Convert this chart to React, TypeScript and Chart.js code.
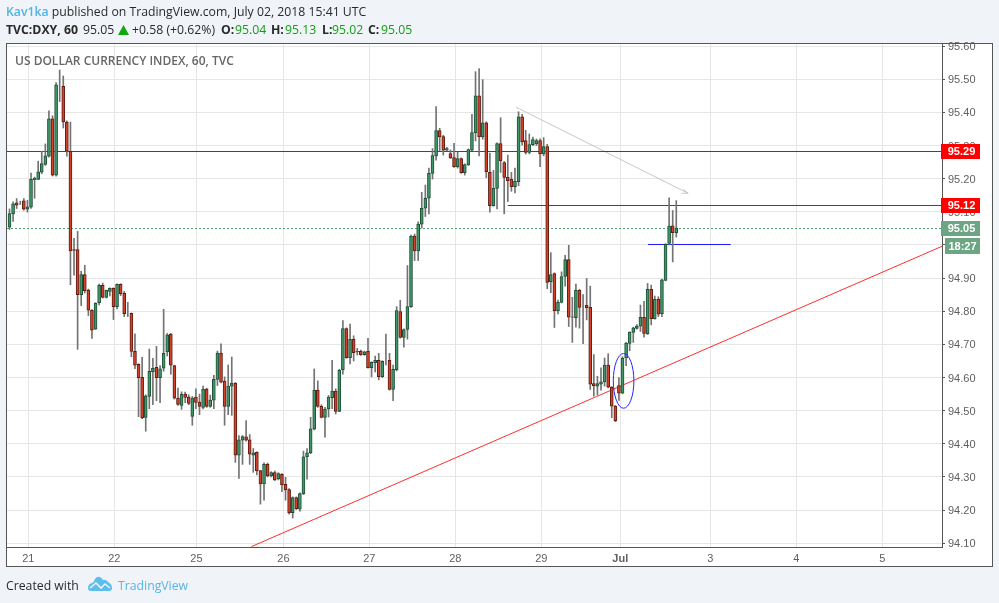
import React, { useEffect, useRef } from "react";
import { Chart, registerables } from "chart.js";

Chart.register(...registerables);

const opens = [
  95.054,95.094,95.127,95.124,95.133,95.108,95.114,95.197,95.198,95.22,
  95.243,95.268,95.381,95.211,95.479,95.479,95.371,95.283,94.986,94.986,
  94.85,94.911,94.864,94.803,94.746,94.826,94.878,94.842,94.86,94.869,
  94.814,94.881,94.854,94.794,94.794,94.679,94.64,94.601,94.48,94.543,
  94.618,94.631,94.6,94.628,94.677,94.731,94.636,94.538,94.516,94.55,
  94.541,94.483,94.541,94.526,94.51,94.565,94.513,94.532,94.594,94.674,
  94.589,94.513,94.574,94.583,94.366,94.411,94.421,94.412,94.366,94.374,
  94.319,94.279,94.338,94.303,94.313,94.294,94.308,94.278,94.262,94.192,
  94.238,94.203,94.249,94.361,94.373,94.444,94.562,94.513,94.48,94.505,
  94.539,94.559,94.498,94.624,94.748,94.66,94.715,94.677,94.679,94.669,
  94.679,94.63,94.645,94.652,94.603,94.652,94.652,94.564,94.624,94.799,
  94.721,94.745,94.814,95.027,94.982,95.063,95.111,95.141,95.216,95.269,
  95.345,95.327,95.286,95.276,95.264,95.236,95.261,95.218,95.242,95.286,
  95.339,95.45,95.326,95.369,95.219,95.119,95.171,95.306,95.249,95.204,
  95.198,95.176,95.191,95.387,95.315,95.279,95.303,95.305,95.315,95.275,
  95.297,94.889,94.914,94.802,94.827,94.905,94.956,94.783,94.781,94.863,
  94.814,94.818,94.812,94.582,94.574,94.58,94.587,94.638,94.571,94.514,
  94.576,94.553,94.659,94.703,94.736,94.748,94.755,94.782,94.732,94.866,
  94.778,94.836,94.793,94.893,95.005,95.058,95.037,
];
const closes = [
  95.095,95.124,95.12,95.124,95.108,95.115,95.198,95.201,95.221,95.246,
  95.269,95.381,95.211,95.483,95.479,95.371,95.283,94.982,94.984,94.85,
  94.911,94.862,94.803,94.743,94.824,94.878,94.842,94.863,94.869,94.814,
  94.881,94.853,94.793,94.794,94.679,94.637,94.6,94.479,94.545,94.619,
  94.628,94.6,94.626,94.673,94.729,94.637,94.538,94.519,94.55,94.54,
  94.522,94.538,94.525,94.513,94.565,94.513,94.532,94.595,94.674,94.586,
  94.513,94.574,94.583,94.366,94.412,94.422,94.411,94.369,94.373,94.318,
  94.279,94.338,94.303,94.313,94.291,94.31,94.276,94.261,94.192,94.238,
  94.204,94.25,94.361,94.373,94.445,94.562,94.513,94.48,94.505,94.541,
  94.559,94.498,94.622,94.748,94.66,94.715,94.675,94.679,94.669,94.678,
  94.63,94.646,94.652,94.603,94.649,94.652,94.564,94.625,94.802,94.721,
  94.745,94.814,95.027,94.982,95.063,95.111,95.141,95.216,95.27,95.345,
  95.326,95.286,95.291,95.263,95.236,95.261,95.218,95.243,95.288,95.339,
  95.45,95.326,95.369,95.221,95.119,95.171,95.306,95.254,95.204,95.194,
  95.176,95.192,95.387,95.311,95.279,95.303,95.318,95.315,95.275,95.297,
  94.887,94.911,94.802,94.827,94.905,94.956,94.782,94.782,94.863,94.812,
  94.814,94.811,94.58,94.575,94.582,94.587,94.638,94.571,94.514,94.469,
  94.553,94.659,94.704,94.737,94.75,94.755,94.782,94.733,94.866,94.778,
  94.836,94.791,94.895,95.002,95.057,95.037,95.051,
];
const highs = [
  95.109,95.13,95.14,95.132,95.14,95.135,95.217,95.205,95.253,95.283,
  95.305,95.405,95.39,95.49,95.528,95.51,95.375,95.371,95.02,95.041,
  94.921,94.939,94.867,94.805,94.826,94.882,94.885,94.864,94.871,94.871,
  94.883,94.883,94.86,94.827,94.795,94.732,94.642,94.661,94.548,94.686,
  94.658,94.694,94.636,94.806,94.733,94.733,94.637,94.568,94.557,94.556,
  94.548,94.543,94.566,94.55,94.574,94.568,94.547,94.607,94.68,94.702,
  94.602,94.638,94.662,94.585,94.425,94.425,94.47,94.428,94.386,94.376,
  94.32,94.343,94.342,94.316,94.318,94.313,94.31,94.299,94.265,94.24,
  94.24,94.252,94.378,94.386,94.48,94.626,94.59,94.518,94.51,94.546,
  94.652,94.566,94.625,94.772,94.75,94.761,94.726,94.688,94.683,94.68,
  94.718,94.648,94.665,94.673,94.651,94.731,94.673,94.638,94.814,94.833,
  94.747,94.938,95.03,95.033,95.07,95.159,95.181,95.232,95.291,95.418,
  95.352,95.331,95.295,95.287,95.307,95.281,95.263,95.245,95.29,95.394,
  95.523,95.532,95.499,95.372,95.277,95.225,95.308,95.384,95.252,95.271,
  95.219,95.232,95.402,95.394,95.346,95.335,95.326,95.32,95.32,95.324,
  95.304,94.977,94.916,94.834,94.919,94.969,94.999,94.842,94.882,94.866,
  94.85,94.899,94.876,94.669,94.604,94.629,94.659,94.672,94.573,94.516,
  94.6,94.663,94.706,94.738,94.752,94.76,94.819,94.83,94.884,94.879,
  94.846,94.844,94.897,95.004,95.142,95.104,95.134,
];
const lows = [
  95.047,95.071,95.11,95.122,95.105,95.099,95.11,95.141,95.197,95.215,
  95.24,95.265,95.208,95.208,95.433,95.353,95.268,94.88,94.909,94.685,
  94.817,94.855,94.787,94.718,94.745,94.819,94.84,94.84,94.846,94.775,
  94.807,94.847,94.784,94.784,94.663,94.627,94.482,94.476,94.438,94.506,
  94.518,94.53,94.524,94.619,94.665,94.61,94.535,94.516,94.504,94.524,
  94.518,94.456,94.506,94.488,94.505,94.51,94.51,94.506,94.576,94.584,
  94.456,94.488,94.486,94.344,94.296,94.338,94.408,94.338,94.314,94.306,
  94.218,94.23,94.3,94.3,94.289,94.291,94.256,94.23,94.188,94.176,
  94.202,94.197,94.247,94.293,94.37,94.442,94.51,94.478,94.42,94.481,
  94.506,94.49,94.497,94.61,94.658,94.641,94.65,94.668,94.667,94.667,
  94.628,94.602,94.617,94.593,94.6,94.638,94.562,94.53,94.62,94.719,
  94.692,94.716,94.812,94.953,94.953,95.051,95.086,95.094,95.199,95.256,
  95.284,95.271,95.284,95.261,95.234,95.232,95.216,95.211,95.24,95.284,
  95.314,95.269,95.319,95.203,95.099,95.117,95.109,95.219,95.094,95.131,
  95.162,95.157,95.179,95.301,95.274,95.275,95.3,95.3,95.236,95.269,
  94.868,94.856,94.751,94.792,94.825,94.876,94.754,94.706,94.752,94.749,
  94.702,94.774,94.564,94.544,94.547,94.562,94.574,94.569,94.479,94.467,
  94.531,94.551,94.636,94.681,94.706,94.746,94.739,94.722,94.73,94.759,
  94.776,94.784,94.784,94.892,95.0,94.949,95.024,
];

// x axis: bar index positions of the date ticks, and their labels
const xTickPositions = [5.24, 29.23, 52.16, 76.43, 100.36, 124.35, 148.34, 170.38, 195.48, 219.47, 243.46];
const xTickLabels = ["21", "22", "25", "26", "27", "28", "29", "Jul", "3", "4", "5"];
const yTicks = [94.1, 94.2, 94.3, 94.4, 94.5, 94.6, 94.7, 94.8, 94.9, 95.0, 95.1, 95.2, 95.3, 95.4, 95.5, 95.6];

const xMin = -0.697;
const xMax = 260.12;
const yMin = 94.0887;
const yMax = 95.6065;

// drawings on the chart, in [bar index, price]
const resistancePrice = 95.2821;
const shortPrice = 95.1192;
const lastPrice = 95.0498;
const resistanceLine = [[-0.697, resistancePrice], [260.12, resistancePrice]];
const shortLine = [[139, shortPrice], [260.12, shortPrice]];
const lastPriceLine = [[-0.697, lastPrice], [260.12, lastPrice]];
const blueLine = [[178.1, 95.0015], [201.2, 95.0015]];
const trendLine = [[67.5, 94.09], [260.1, 94.996]];
const arrowLine = [[141.3, 95.416], [189.3, 95.156]];
const arrowHead = [[187.95, 95.168], [189.3, 95.156], [187.5, 95.156]];
const ellipseCentre = [171.3, 94.59];
const ellipseRadii = [2.87, 0.0825];

const GREEN_FILL = "#3f9668";
const GREEN_EDGE = "#1f4f37";
const RED_FILL = "#d2412a";
const RED_EDGE = "#5e1c12";
const WICK = "#737373";
const FRAME = "#555555";
const PAGE = "#f0f3f7";
const UI_FONT = "'Open Sans'";

const toPoints = (pairs: number[][]) => pairs.map(([x, y]) => ({ x, y }));

const lineSet = (pairs: number[][], color: string, extra: object = {}) => ({
  type: "line",
  data: toPoints(pairs),
  borderColor: color,
  borderWidth: 1,
  pointRadius: 0,
  tension: 0,
  order: 5,
  ...extra,
});

const isUp = (i: number) => closes[i] >= opens[i];

const badge = (ctx: any, x0: number, x1: number, top: number, bottom: number, fill: string, text: string, textX: number) => {
  ctx.fillStyle = fill;
  ctx.fillRect(x0, top, x1 - x0, bottom - top);
  ctx.fillStyle = "#ffffff";
  ctx.font = "bold 11px 'Liberation Sans'";
  ctx.textAlign = "center";
  ctx.textBaseline = "middle";
  ctx.fillText(text, textX, (top + bottom) / 2 + 0.5);
};

const framePlugin = {
  id: "frame",
  beforeDraw(chart: any) {
    const { ctx, width, height } = chart;
    ctx.save();
    ctx.fillStyle = PAGE;
    ctx.fillRect(0, 0, width, height);
    ctx.fillStyle = "#ffffff";
    ctx.fillRect(6, 43, 987, 524);
    ctx.restore();
  },
  // bars land on whole pixels, as a trading chart's candles do
  beforeDatasetsDraw(chart: any) {
    chart.data.datasets.forEach((ds: any, d: number) => {
      if (ds.type !== "bar") return;
      chart.getDatasetMeta(d).data.forEach((el: any) => {
        el.x = Math.floor(el.x) + 0.5;
        el.y = Math.round(el.y);
        el.base = Math.round(el.base);
        if (el.base === el.y) el.base = el.y + 1;
        if (ds.label === "bodies" && Math.abs(el.base - el.y) < 2) el.base = el.y + 2;
      });
    });
  },
  afterDatasetsDraw(chart: any) {
    const { ctx, chartArea, scales } = chart;
    ctx.save();
    ctx.beginPath();
    ctx.rect(chartArea.left, chartArea.top, chartArea.right - chartArea.left, chartArea.bottom - chartArea.top);
    ctx.clip();
    const cx = scales.x.getPixelForValue(ellipseCentre[0]);
    const cy = scales.y.getPixelForValue(ellipseCentre[1]);
    const rx = Math.abs(scales.x.getPixelForValue(ellipseCentre[0] + ellipseRadii[0]) - cx);
    const ry = Math.abs(scales.y.getPixelForValue(ellipseCentre[1] + ellipseRadii[1]) - cy);
    ctx.strokeStyle = "#2626ff";
    ctx.lineWidth = 1;
    ctx.beginPath();
    ctx.ellipse(cx, cy, rx, ry, 0, 0, Math.PI * 2);
    ctx.stroke();
    ctx.fillStyle = "#666666";
    ctx.font = `600 12px ${UI_FONT}`;
    ctx.textAlign = "left";
    ctx.textBaseline = "middle";
    ctx.fillText("US DOLLAR CURRENCY INDEX, 60, TVC", 15, 61.5);
    ctx.restore();
  },
  afterDraw(chart: any) {
    const { ctx, scales } = chart;
    ctx.save();
    ctx.strokeStyle = FRAME;
    ctx.lineWidth = 1;
    ctx.strokeRect(6.5, 43.5, 986, 523);
    const y = scales.y;
    const at = (v: number) => Math.floor(y.getPixelForValue(v));
    badge(ctx, 941, 980, at(resistancePrice) - 7, at(resistancePrice) + 8, "#ff0000", "95.29", 961.5);
    badge(ctx, 941, 980, at(shortPrice) - 7, at(shortPrice) + 8, "#ff0000", "95.12", 961.5);
    badge(ctx, 941, 980, at(lastPrice) - 7, at(lastPrice) + 8, "#6ba583", "95.05", 961.5);
    badge(ctx, 945, 980, at(lastPrice) + 10, at(lastPrice) + 26, "#6ba583", "18:27", 962.5);
    ctx.restore();
  },
};

const Triangle = () => (
  <svg width="11" height="10" viewBox="0 0 11 10" style={{ display: "inline-block", margin: "0 3px 0 4px", verticalAlign: "-1px" }}>
    <path d="M5.5 0 L11 10 L0 10 Z" fill="#0fa80f" />
  </svg>
);

const Logo = () => (
  <svg width="24" height="16" viewBox="0 0 24 16" style={{ position: "absolute", left: 88, top: 576 }}>
    <path d="M0 12 Q0 8 4 7 Q6 6 7 3 Q9 0 12 1 Q14 2 15 4 Q18 3 20 6 Q24 8 24 12 Q24 15 21 15 L3 15 Q0 15 0 12 Z" fill="#5cbdee" />
    <path d="M2 12 L8 7 L13 12 L17 8 L22 12" stroke="#f0f3f7" strokeWidth="1.6" fill="none" />
  </svg>
);

const G = ({ children, left }: any) => <span style={{ color: "#12a012", position: "absolute", left, top: 0 }}>{children}</span>;
const B = ({ children, left }: any) => <span style={{ fontWeight: 700, position: "absolute", left, top: 0 }}>{children}</span>;
const N = ({ children, left }: any) => <span style={{ position: "absolute", left, top: 0 }}>{children}</span>;

export default function App() {
  const ref = useRef<HTMLCanvasElement>(null);

  useEffect(() => {
    const idx = opens.map((_, i) => i);
    const chart = new Chart(ref.current as any, {
      type: "bar",
      plugins: [framePlugin],
      data: {
        datasets: [
          {
            label: "bodies",
            data: idx.map((i) => ({ x: i, y: [opens[i], closes[i]] })),
            backgroundColor: idx.map((i) => (isUp(i) ? GREEN_FILL : RED_FILL)),
            borderColor: idx.map((i) => (isUp(i) ? GREEN_EDGE : RED_EDGE)),
            borderWidth: 1,
            borderSkipped: false,
            barThickness: 3,
            grouped: false,
            order: 1,
          },
          {
            label: "wicks",
            data: idx.map((i) => ({ x: i, y: [lows[i], highs[i]] })),
            backgroundColor: WICK,
            borderWidth: 0,
            barThickness: 1,
            grouped: false,
            order: 2,
          },
          lineSet(resistanceLine, "#cf0a10"),
          lineSet(shortLine, "#cf0a10"),
          lineSet(lastPriceLine, "#53a37a", { borderDash: [2, 2] }),
          lineSet(blueLine, "#1a1aff"),
          lineSet(trendLine, "#ff2f2f"),
          lineSet(arrowLine, "#c8c8c8"),
          lineSet(arrowHead, "#c8c8c8"),
        ] as any,
      },
      options: {
        animation: false,
        responsive: false,
        devicePixelRatio: 1,
        layout: { padding: { left: 7, right: 7, top: 44, bottom: 36 } },
        plugins: { legend: { display: false }, tooltip: { enabled: false }, title: { display: false } },
        scales: {
          x: {
            type: "linear",
            min: xMin,
            max: xMax,
            offset: false,
            afterBuildTicks: (s: any) => {
              s.ticks = xTickPositions.map((value) => ({ value }));
            },
            afterFit: (s: any) => {
              s.height = 20;
            },
            grid: { color: "#e6e6e6", lineWidth: 1, drawTicks: false, offset: false },
            border: { color: FRAME },
            ticks: {
              autoSkip: false,
              maxRotation: 0,
              padding: 5,
              color: "#5f5f5f",
              font: (c: any) => ({
                family: "'Liberation Sans'",
                size: 11,
                weight: c.tick && xTickLabels[xTickPositions.indexOf(c.tick.value)] === "Jul" ? "bold" : "normal",
              }),
              callback: (v: any) => xTickLabels[xTickPositions.indexOf(v)],
            },
          },
          y: {
            type: "linear",
            position: "right",
            min: yMin,
            max: yMax,
            afterBuildTicks: (s: any) => {
              s.ticks = yTicks.map((value) => ({ value }));
            },
            afterFit: (s: any) => {
              s.width = 50;
            },
            grid: { color: "#e6e6e6", lineWidth: 1, tickColor: FRAME, tickLength: 3 },
            border: { color: FRAME },
            ticks: {
              padding: 3,
              labelOffset: 1,
              color: "#5f5f5f",
              font: { family: "'Liberation Sans'", size: 11 },
              callback: (v: any) => Number(v).toFixed(2),
            },
          },
        },
      },
    } as any);
    return () => chart.destroy();
  }, []);

  const text = { position: "absolute", whiteSpace: "nowrap", fontFamily: UI_FONT, fontSize: 12.25, lineHeight: "16px", color: "#2a2a2a" } as const;

  return (
    <div style={{ position: "fixed", left: 0, top: 0, width: 999, height: 603, background: PAGE, overflow: "hidden" }}>
      <canvas ref={ref} width={999} height={603} style={{ position: "absolute", left: 0, top: 0, display: "block" }} />
      <div style={{ ...text, left: 6, top: 4 }}>
        <span style={{ color: "#4db4e8", fontWeight: 600 }}>Kav1ka</span> published on TradingView.com, July 02, 2018 15:41 UTC
      </div>
      <div style={{ ...text, left: 6, top: 22 }}>
        <B left={0}>TVC:DXY, 60</B>
        <N left={77}>95.05</N>
        <svg width="11" height="10" viewBox="0 0 11 10" style={{ position: "absolute", left: 112, top: 3 }}>
          <path d="M5.5 0 L11 10 L0 10 Z" fill="#0fa80f" />
        </svg>
        <N left={126}>+0.58 (+0.62%)</N>
        <B left={215}>O:</B>
        <G left={229}>95.04</G>
        <B left={265}>H:</B>
        <G left={279}>95.13</G>
        <B left={316}>L:</B>
        <G left={326}>95.02</G>
        <B left={362}>C:</B>
        <G left={375}>95.05</G>
      </div>
      <div style={{ ...text, left: 6, top: 578 }}>Created with</div>
      <Logo />
      <div style={{ ...text, left: 118, top: 578, color: "#55b6e6" }}>TradingView</div>
    </div>
  );
}
